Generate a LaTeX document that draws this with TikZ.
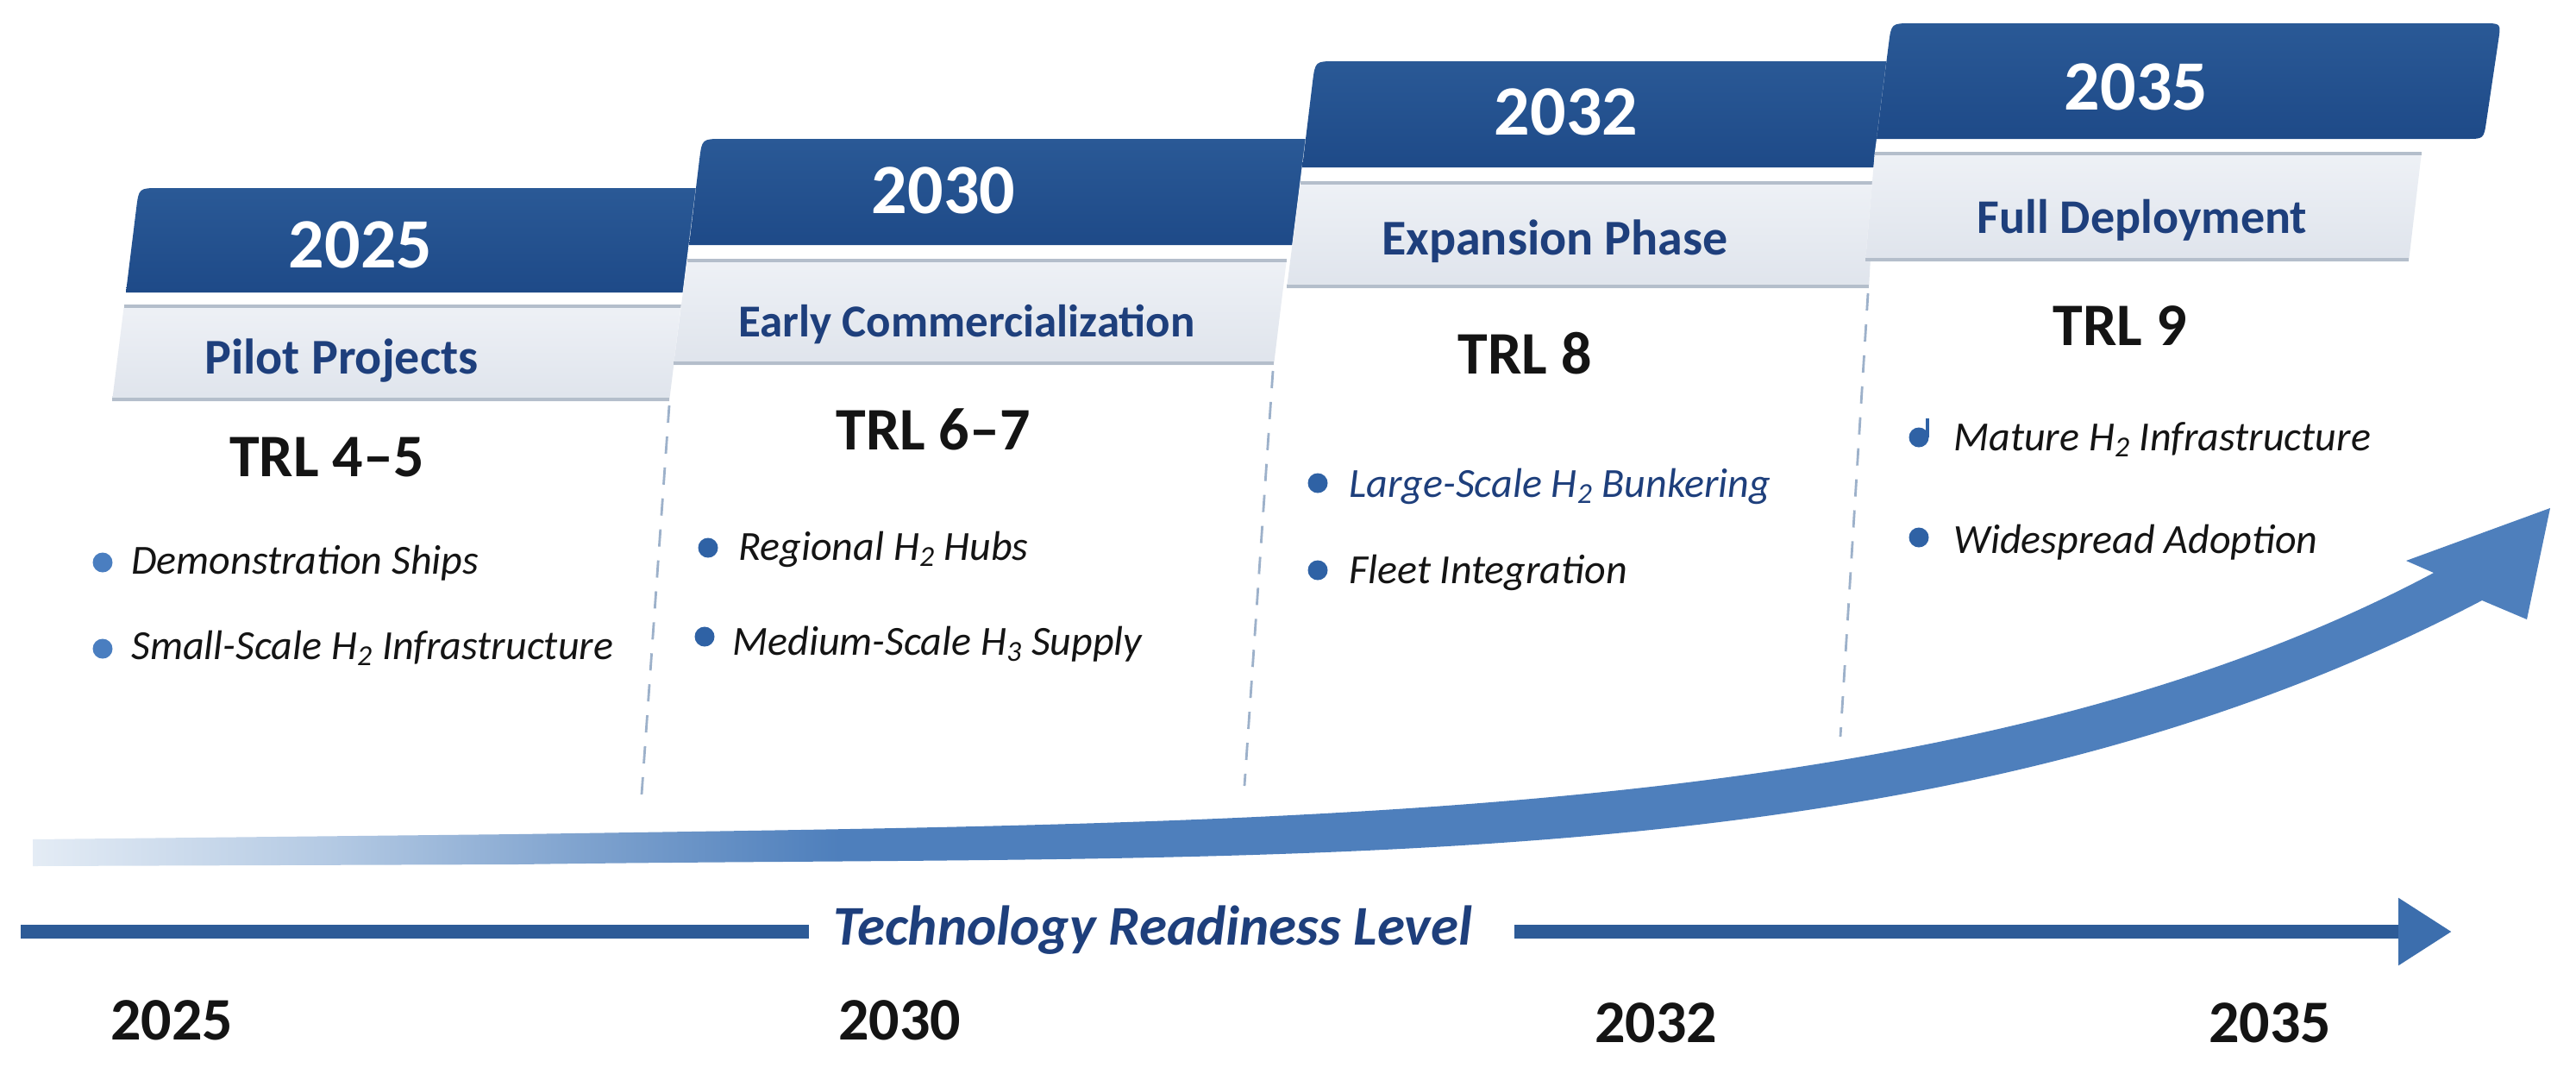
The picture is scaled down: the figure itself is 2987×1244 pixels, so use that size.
\documentclass[tikz,border=0pt]{standalone}
\usepackage{fontspec}
\setmainfont{Carlito}
\usetikzlibrary{arrows.meta}
\definecolor{hdrT}{HTML}{2A5996}
\definecolor{hdrB}{HTML}{1E4A88}
\definecolor{panT}{HTML}{EEF1F6}
\definecolor{panB}{HTML}{DFE4EC}
\definecolor{panLine}{HTML}{B4BECB}
\definecolor{navy}{HTML}{1E3F7C}
\definecolor{ink}{HTML}{141414}
\definecolor{dotc}{HTML}{2F62A5}
\definecolor{dotL}{HTML}{4A7EC0}
\definecolor{dashc}{HTML}{9DB1CA}
\definecolor{agA}{HTML}{E4ECF5}
\definecolor{agB}{HTML}{B3C9E3}
\definecolor{agC}{HTML}{7EA2CE}
\definecolor{agD}{HTML}{4E7FBC}
\definecolor{barc}{HTML}{2D5B97}
\definecolor{barhead}{HTML}{3C6EAD}
\pgfdeclarehorizontalshading{arrowgrad}{100bp}{color(0bp)=(agA); color(25bp)=(agA); color(31bp)=(agB); color(36bp)=(agC); color(41bp)=(agD); color(100bp)=(agD)}
\newcommand{\hsub}[1]{\textsubscript{#1}}
\tikzset{
  yr/.style={font=\bfseries\fontsize{41}{41}\selectfont, text=white, anchor=base, inner sep=0pt},
  phase/.style={font=\bfseries\fontsize{29}{29}\selectfont, text=navy, anchor=base, inner sep=0pt},
  trl/.style={font=\bfseries\fontsize{35}{35}\selectfont, text=ink, anchor=base, inner sep=0pt},
  item/.style={font=\itshape\fontsize{24}{24}\selectfont, text=ink, anchor=base west, inner sep=0pt},
  bdot/.style={circle, fill=dotc, inner sep=0pt, minimum size=11.5pt},
  byr/.style={font=\bfseries\fontsize{35}{35}\selectfont, text=ink, anchor=base, inner sep=0pt},
  hdr/.style={top color=hdrT, bottom color=hdrB, draw=none},
  pan/.style={top color=panT, bottom color=panB, draw=none},
  panedge/.style={draw=panLine, line width=2.2pt},
  sep/.style={draw=dashc, line width=1.4pt, dash pattern=on 10pt off 8pt},
  axbar/.style={draw=barc, line width=8pt}
}
\begin{document}
\begin{tikzpicture}[x=0.5pt,y=-0.5pt]
\useasboundingbox (0,0) rectangle (2987,1244);
\fill[white] (0,0) rectangle (2987,1244);

% ---------- curved growth arrow ----------
\shade[shading=arrowgrad]
  (38,973) -- (600,967)
  .. controls (1500,953) and (2272,956) .. (2822,664)
  -- (2790,650) -- (2957,589) -- (2930,718) -- (2878,696)
  .. controls (2240,1030) and (1500,989) .. (600,1002)
  -- (38,1004) -- cycle;

% ---------- card 1 ----------
\shade[hdr] (146,339) -- (158,242) .. controls (161,218) .. (185,218) -- (900,218) -- (900,339) -- cycle;
\shade[pan] (144,353) -- (790,353) -- (776,465) -- (130,465) -- cycle;
\draw[panedge] (144,355) -- (790,355);
\draw[panedge] (130,463) -- (776,463);
\coordinate (s1a) at (776,470); \coordinate (s1b) at (743,935);
\draw[sep] (s1a) -- (s1b);

% ---------- card 2 ----------
\fill[white] (814,161) -- (1600,161) -- (1600,423) -- (781,423) -- cycle;
\shade[hdr] (799,284) -- (811,185) .. controls (814,161) .. (838,161) -- (1600,161) -- (1600,284) -- cycle;
\shade[pan] (797,300) -- (1492,300) -- (1477,423) -- (781,423) -- cycle;
\draw[panedge] (797,302) -- (1492,302);
\draw[panedge] (781,421) -- (1477,421);
\coordinate (s2a) at (1476,430); \coordinate (s2b) at (1443,911);
\draw[sep] (s2a) -- (s2b);

% ---------- card 3 ----------
\fill[white] (1525,71) -- (2300,71) -- (2300,334) -- (1492,334) -- cycle;
\shade[hdr] (1510,194) -- (1522,95) .. controls (1525,71) .. (1549,71) -- (2300,71) -- (2300,194) -- cycle;
\shade[pan] (1508,210) -- (2174,210) -- (2167,334) -- (1492,334) -- cycle;
\draw[panedge] (1508,212) -- (2174,212);
\draw[panedge] (1492,332) -- (2167,332);
\coordinate (s3a) at (2166,340); \coordinate (s3b) at (2134,854);
\draw[sep] (s3a) -- (s3b);

% ---------- card 4 ----------
\fill[white] (2193,27) -- (2900,27) -- (2880,303) -- (2163,303) -- (2174,176) -- (2176,161) -- cycle;
\shade[hdr] (2176,161) -- (2190,51) .. controls (2193,27) .. (2217,27) -- (2880,27) .. controls (2900,27) .. (2897,47) -- (2883,141) .. controls (2880,161) .. (2860,161) -- cycle;
\shade[pan] (2174,176) -- (2808,176) -- (2793,303) -- (2163,303) -- cycle;
\draw[panedge] (2174,178) -- (2808,178);
\draw[panedge] (2163,301) -- (2793,301);

% ---------- header texts ----------
\node[yr] (y1) at (418,310) {2025};
\node[yr] (y2) at (1094,247) {2030};
\node[yr] (y3) at (1816,156) {2032};
\node[yr] (y4) at (2477,127) {2035};

\node[phase] (p1) at (396,433) {Pilot Projects};
\node[phase, font=\bfseries\fontsize{26.5}{26.5}\selectfont] (p2) at (1121,390) {Early Commercialization};
\node[phase] (p3) at (1803,295) {Expansion Phase};
\node[phase, font=\bfseries\fontsize{28}{28}\selectfont] (p4) at (2484,270) {Full Deployment};

\node[trl] (t1) at (379,552) {TRL 4–5};
\node[trl] (t2) at (1082,521) {TRL 6–7};
\node[trl] (t3) at (1768,433) {TRL 8};
\node[trl] (t4) at (2458,400) {TRL 9};

% ---------- bullet items ----------
\node[bdot, fill=dotL] (d11) at (119,652) {};
\node[item] (i11) at (152,665) {Demonstration Ships};
\node[bdot, fill=dotL] (d12) at (119,752) {};
\node[item] (i12) at (152,764) {Small-Scale H\hsub{2} Infrastructure};

\node[bdot] (d21) at (821,635) {};
\node[item] (i21) at (856,649) {Regional H\hsub{2} Hubs};
\node[bdot] (d22) at (817,738) {};
\node[item] (i22) at (849,759) {Medium-Scale H\hsub{3} Supply};

\node[bdot] (d31) at (1528,560) {};
\node[item, text=navy] (i31) at (1564,576) {Large-Scale H\hsub{2} Bunkering};
\node[bdot] (d32) at (1528,661) {};
\node[item] (i32) at (1564,676) {Fleet Integration};

\node[bdot] (d41) at (2225,507) {};
\draw[dotc, line width=2pt] ([xshift=-1pt]d41.east) -- ++(0,-22);
\node[item] (i41) at (2265,522) {Mature H\hsub{2} Infrastructure};
\node[bdot] (d42) at (2225,623) {};
\node[item] (i42) at (2265,641) {Widespread Adoption};

% ---------- bottom axis ----------
\coordinate (axA) at (24,1080);
\coordinate (axB) at (938,1080);
\coordinate (axC) at (1756,1080);
\coordinate (axD) at (2843,1080);
\draw[axbar] (axA) -- (axB);
\draw[axbar, -{Triangle[length=31pt, width=37pt, color=barhead]}] (axC) -- (axD);
\node[anchor=base, inner sep=0pt, font=\bfseries\itshape\fontsize{32.5}{32.5}\selectfont, text=navy] (trllabel) at (1337,1095) {Technology Readiness Level};

\node[byr] (b1) at (199,1205) {2025};
\node[byr] (b2) at (1043,1205) {2030};
\node[byr] (b3) at (1920,1208) {2032};
\node[byr] (b4) at (2632,1208) {2035};
\end{tikzpicture}
\end{document}
